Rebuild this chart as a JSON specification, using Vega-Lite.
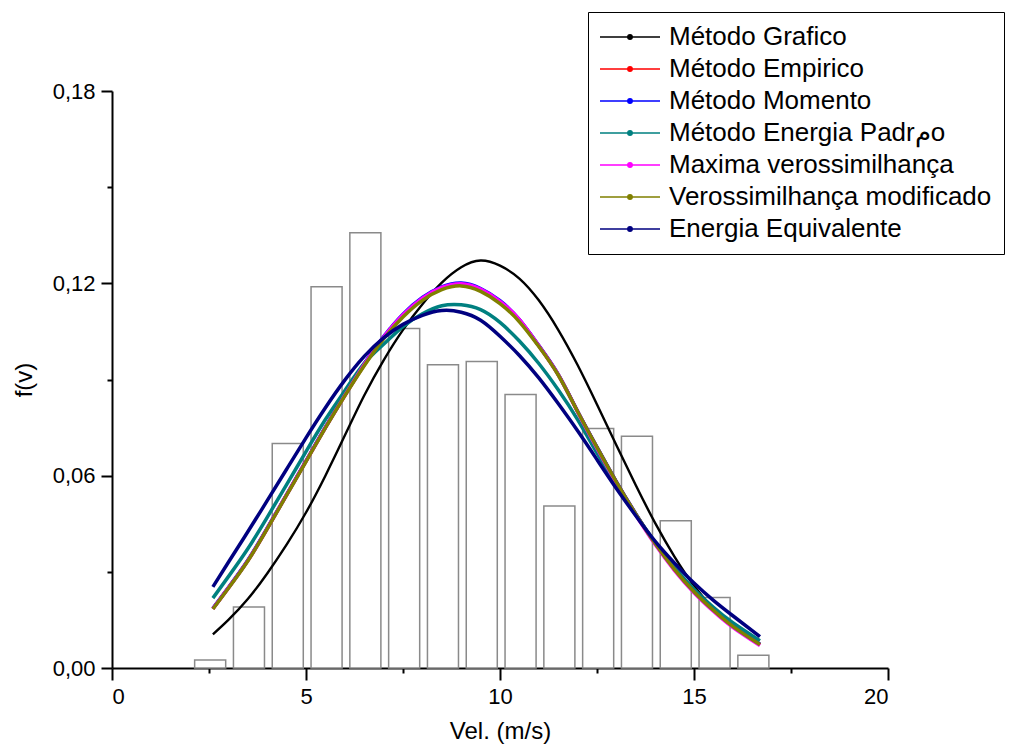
{
  "$schema": "https://vega.github.io/schema/vega-lite/v6.json",
  "autosize": "none",
  "width": 776,
  "height": 577,
  "padding": {"left": 112, "top": 91, "right": 124, "bottom": 83},
  "background": "white",
  "config": {
    "view": {"stroke": null},
    "font": "Liberation Sans"
  },
  "datasets": {
    "bars": [
      {"lo": 2.13, "hi": 2.93, "f": 0.0025},
      {"lo": 3.13, "hi": 3.93, "f": 0.019},
      {"lo": 4.13, "hi": 4.93, "f": 0.070},
      {"lo": 5.13, "hi": 5.93, "f": 0.1189},
      {"lo": 6.13, "hi": 6.93, "f": 0.1358},
      {"lo": 7.13, "hi": 7.93, "f": 0.1059},
      {"lo": 8.13, "hi": 8.93, "f": 0.0946},
      {"lo": 9.13, "hi": 9.93, "f": 0.0956},
      {"lo": 10.13, "hi": 10.93, "f": 0.0853},
      {"lo": 11.13, "hi": 11.93, "f": 0.0505},
      {"lo": 12.13, "hi": 12.93, "f": 0.0747},
      {"lo": 13.13, "hi": 13.93, "f": 0.0723},
      {"lo": 14.13, "hi": 14.93, "f": 0.0459},
      {"lo": 15.13, "hi": 15.93, "f": 0.0220},
      {"lo": 16.13, "hi": 16.93, "f": 0.0040}
    ],
    "curves": [
      {"x": 2.6, "Método Grafico": 0.0105, "Método Empirico": 0.0185, "Método Momento": 0.0186, "Método Energia Padrمo": 0.0218, "Maxima verossimilhança": 0.0185, "Verossimilhança modificado": 0.0184, "Energia Equivalente": 0.0253},
      {"x": 3.0, "Método Grafico": 0.0150, "Método Empirico": 0.0250, "Método Momento": 0.0251, "Método Energia Padrمo": 0.0285, "Maxima verossimilhança": 0.0250, "Verossimilhança modificado": 0.0249, "Energia Equivalente": 0.0330},
      {"x": 3.5, "Método Grafico": 0.0215, "Método Empirico": 0.0335, "Método Momento": 0.0336, "Método Energia Padrمo": 0.0372, "Maxima verossimilhança": 0.0335, "Verossimilhança modificado": 0.0334, "Energia Equivalente": 0.0425},
      {"x": 4.0, "Método Grafico": 0.0295, "Método Empirico": 0.0435, "Método Momento": 0.0436, "Método Energia Padrمo": 0.0470, "Maxima verossimilhança": 0.0435, "Verossimilhança modificado": 0.0434, "Energia Equivalente": 0.0522},
      {"x": 4.5, "Método Grafico": 0.0385, "Método Empirico": 0.0540, "Método Momento": 0.0541, "Método Energia Padrمo": 0.0572, "Maxima verossimilhança": 0.0540, "Verossimilhança modificado": 0.0539, "Energia Equivalente": 0.0620},
      {"x": 5.0, "Método Grafico": 0.0485, "Método Empirico": 0.0645, "Método Momento": 0.0646, "Método Energia Padrمo": 0.0675, "Maxima verossimilhança": 0.0645, "Verossimilhança modificado": 0.0644, "Energia Equivalente": 0.0718},
      {"x": 5.5, "Método Grafico": 0.0600, "Método Empirico": 0.0750, "Método Momento": 0.0751, "Método Energia Padrمo": 0.0775, "Maxima verossimilhança": 0.0750, "Verossimilhança modificado": 0.0749, "Energia Equivalente": 0.0812},
      {"x": 6.0, "Método Grafico": 0.0725, "Método Empirico": 0.0850, "Método Momento": 0.0851, "Método Energia Padrمo": 0.0865, "Maxima verossimilhança": 0.0850, "Verossimilhança modificado": 0.0849, "Energia Equivalente": 0.0898},
      {"x": 6.5, "Método Grafico": 0.0850, "Método Empirico": 0.0945, "Método Momento": 0.0949, "Método Energia Padrمo": 0.0950, "Maxima verossimilhança": 0.0947, "Verossimilhança modificado": 0.0943, "Energia Equivalente": 0.0972},
      {"x": 7.0, "Método Grafico": 0.0960, "Método Empirico": 0.1030, "Método Momento": 0.1034, "Método Energia Padrمo": 0.1010, "Maxima verossimilhança": 0.1032, "Verossimilhança modificado": 0.1027, "Energia Equivalente": 0.1030},
      {"x": 7.5, "Método Grafico": 0.1055, "Método Empirico": 0.1100, "Método Momento": 0.1104, "Método Energia Padrمo": 0.1065, "Maxima verossimilhança": 0.1102, "Verossimilhança modificado": 0.1095, "Energia Equivalente": 0.1072},
      {"x": 8.0, "Método Grafico": 0.1135, "Método Empirico": 0.1152, "Método Momento": 0.1156, "Método Energia Padrمo": 0.1105, "Maxima verossimilhança": 0.1154, "Verossimilhança modificado": 0.1147, "Energia Equivalente": 0.1100},
      {"x": 8.5, "Método Grafico": 0.1202, "Método Empirico": 0.1185, "Método Momento": 0.1189, "Método Energia Padrمo": 0.1130, "Maxima verossimilhança": 0.1187, "Verossimilhança modificado": 0.1180, "Energia Equivalente": 0.1115},
      {"x": 9.0, "Método Grafico": 0.1250, "Método Empirico": 0.1197, "Método Momento": 0.1201, "Método Energia Padrمo": 0.1133, "Maxima verossimilhança": 0.1199, "Verossimilhança modificado": 0.1192, "Energia Equivalente": 0.1110},
      {"x": 9.5, "Método Grafico": 0.1271, "Método Empirico": 0.1180, "Método Momento": 0.1184, "Método Energia Padrمo": 0.1118, "Maxima verossimilhança": 0.1182, "Verossimilhança modificado": 0.1175, "Energia Equivalente": 0.1085},
      {"x": 10.0, "Método Grafico": 0.1255, "Método Empirico": 0.1142, "Método Momento": 0.1146, "Método Energia Padrمo": 0.1078, "Maxima verossimilhança": 0.1144, "Verossimilhança modificado": 0.1137, "Energia Equivalente": 0.1035},
      {"x": 10.5, "Método Grafico": 0.1215, "Método Empirico": 0.1085, "Método Momento": 0.1087, "Método Energia Padrمo": 0.1020, "Maxima verossimilhança": 0.1087, "Verossimilhança modificado": 0.1080, "Energia Equivalente": 0.0975},
      {"x": 11.0, "Método Grafico": 0.1147, "Método Empirico": 0.1005, "Método Momento": 0.1006, "Método Energia Padrمo": 0.0950, "Maxima verossimilhança": 0.1005, "Verossimilhança modificado": 0.1003, "Energia Equivalente": 0.0905},
      {"x": 11.5, "Método Grafico": 0.1055, "Método Empirico": 0.0915, "Método Momento": 0.0916, "Método Energia Padrمo": 0.0868, "Maxima verossimilhança": 0.0915, "Verossimilhança modificado": 0.0914, "Energia Equivalente": 0.0825},
      {"x": 12.0, "Método Grafico": 0.0945, "Método Empirico": 0.0800, "Método Momento": 0.0801, "Método Energia Padrمo": 0.0775, "Maxima verossimilhança": 0.0799, "Verossimilhança modificado": 0.0800, "Energia Equivalente": 0.0740},
      {"x": 12.5, "Método Grafico": 0.0822, "Método Empirico": 0.0688, "Método Momento": 0.0689, "Método Energia Padrمo": 0.0670, "Maxima verossimilhança": 0.0685, "Verossimilhança modificado": 0.0688, "Energia Equivalente": 0.0650},
      {"x": 13.0, "Método Grafico": 0.0695, "Método Empirico": 0.0580, "Método Momento": 0.0581, "Método Energia Padrمo": 0.0570, "Maxima verossimilhança": 0.0577, "Verossimilhança modificado": 0.0580, "Energia Equivalente": 0.0560},
      {"x": 13.5, "Método Grafico": 0.0570, "Método Empirico": 0.0480, "Método Momento": 0.0481, "Método Energia Padrمo": 0.0478, "Maxima verossimilhança": 0.0477, "Verossimilhança modificado": 0.0480, "Energia Equivalente": 0.0475},
      {"x": 14.0, "Método Grafico": 0.0452, "Método Empirico": 0.0388, "Método Momento": 0.0389, "Método Energia Padrمo": 0.0392, "Maxima verossimilhança": 0.0385, "Verossimilhança modificado": 0.0388, "Energia Equivalente": 0.0395},
      {"x": 14.5, "Método Grafico": 0.0347, "Método Empirico": 0.0307, "Método Momento": 0.0308, "Método Energia Padrمo": 0.0313, "Maxima verossimilhança": 0.0304, "Verossimilhança modificado": 0.0307, "Energia Equivalente": 0.0327},
      {"x": 15.0, "Método Grafico": 0.0257, "Método Empirico": 0.0238, "Método Momento": 0.0239, "Método Energia Padrمo": 0.0246, "Maxima verossimilhança": 0.0235, "Verossimilhança modificado": 0.0238, "Energia Equivalente": 0.0265},
      {"x": 15.5, "Método Grafico": 0.0185, "Método Empirico": 0.0180, "Método Momento": 0.0181, "Método Energia Padrمo": 0.0189, "Maxima verossimilhança": 0.0177, "Verossimilhança modificado": 0.0180, "Energia Equivalente": 0.0211},
      {"x": 16.0, "Método Grafico": 0.0128, "Método Empirico": 0.0130, "Método Momento": 0.0131, "Método Energia Padrمo": 0.0141, "Maxima verossimilhança": 0.0127, "Verossimilhança modificado": 0.0130, "Energia Equivalente": 0.0163},
      {"x": 16.7, "Método Grafico": 0.0075, "Método Empirico": 0.0073, "Método Momento": 0.0074, "Método Energia Padrمo": 0.0085, "Maxima verossimilhança": 0.0070, "Verossimilhança modificado": 0.0073, "Energia Equivalente": 0.0098}
    ]
  },
  "layer": [
    {
      "data": {"name": "bars"},
      "mark": {"type": "rect", "fill": "white", "stroke": "#8a8a8a", "strokeWidth": 1.5},
      "encoding": {
        "x": {"field": "lo", "type": "quantitative",
          "scale": {"domain": [0, 20], "nice": false, "zero": false},
          "axis": {
            "title": "Vel. (m/s)",
            "values": [0, 2.5, 5, 7.5, 10, 12.5, 15, 17.5, 20],
            "labelExpr": "datum.value % 5 === 0 ? datum.label : ''",
            "tickSize": {"condition": {"test": "datum.value % 5 === 0", "value": 12}, "value": 5},
            "tickWidth": 2, "tickColor": "black",
            "domainWidth": 2, "domainColor": "black",
            "grid": false,
            "labelFont": "Liberation Sans", "labelFontSize": 22, "labelColor": "black",
            "labelPadding": 6,
            "titleFont": "Liberation Sans", "titleFontSize": 24, "titleFontWeight": "normal", "titleColor": "black",
            "titlePadding": 12
          }},
        "x2": {"field": "hi"},
        "y": {"field": "f", "type": "quantitative",
          "scale": {"domain": [0, 0.18], "nice": false},
          "axis": {
            "title": "f(v)",
            "values": [0, 0.03, 0.06, 0.09, 0.12, 0.15, 0.18],
            "labelExpr": "round(datum.value * 100) % 6 === 0 ? replace(format(datum.value, '.2f'), '.', ',') : ''",
            "tickSize": {"condition": {"test": "round(datum.value * 100) % 6 === 0", "value": 11}, "value": 5},
            "tickWidth": 2, "tickColor": "black",
            "domainWidth": 2, "domainColor": "black",
            "grid": false,
            "labelFont": "Liberation Sans", "labelFontSize": 22, "labelColor": "black",
            "labelPadding": 6,
            "titleFont": "Liberation Sans", "titleFontSize": 24, "titleFontWeight": "normal", "titleColor": "black",
            "titlePadding": 16
          }},
        "y2": {"datum": 0}
      }
    },
    {
      "data": {"name": "curves"},
      "transform": [
        {"fold": ["Método Grafico", "Método Empirico", "Método Momento", "Método Energia Padrمo", "Maxima verossimilhança", "Verossimilhança modificado", "Energia Equivalente"], "as": ["s", "y"]}
      ],
      "mark": {"type": "line", "interpolate": "natural"},
      "encoding": {
        "x": {"field": "x", "type": "quantitative"},
        "y": {"field": "y", "type": "quantitative"},
        "color": {
          "field": "s", "type": "nominal",
          "scale": {
            "domain": ["Método Grafico", "Método Empirico", "Método Momento", "Método Energia Padrمo", "Maxima verossimilhança", "Verossimilhança modificado", "Energia Equivalente"],
            "range": ["#000000", "#ff0000", "#0000ff", "#008080", "#ff00ff", "#808000", "#000080"]
          },
          "legend": {
            "title": null,
            "orient": "none",
            "legendX": 476,
            "legendY": -79,
            "strokeColor": "black",
            "padding": 12,
            "symbolType": "M-1.3,0L4.7,0M1.48,0A0.22,0.22,0,1,1,1.92,0A0.22,0.22,0,1,1,1.48,0Z",
            "symbolSize": 400,
            "symbolStrokeWidth": 1.5,
            "labelFont": "Liberation Sans",
            "labelFontSize": 26,
            "labelColor": "black",
            "labelLimit": 0,
            "labelOffset": 43,
            "rowPadding": 6,
            "encode": {"symbols": {"update": {"fill": {"scale": "color", "field": "value"}, "fillOpacity": {"value": 1}}}}
          }
        },
        "strokeWidth": {"condition": {"test": "datum.s === 'Método Grafico'", "value": 2.4}, "value": 3.5}
      }
    }
  ]
}
